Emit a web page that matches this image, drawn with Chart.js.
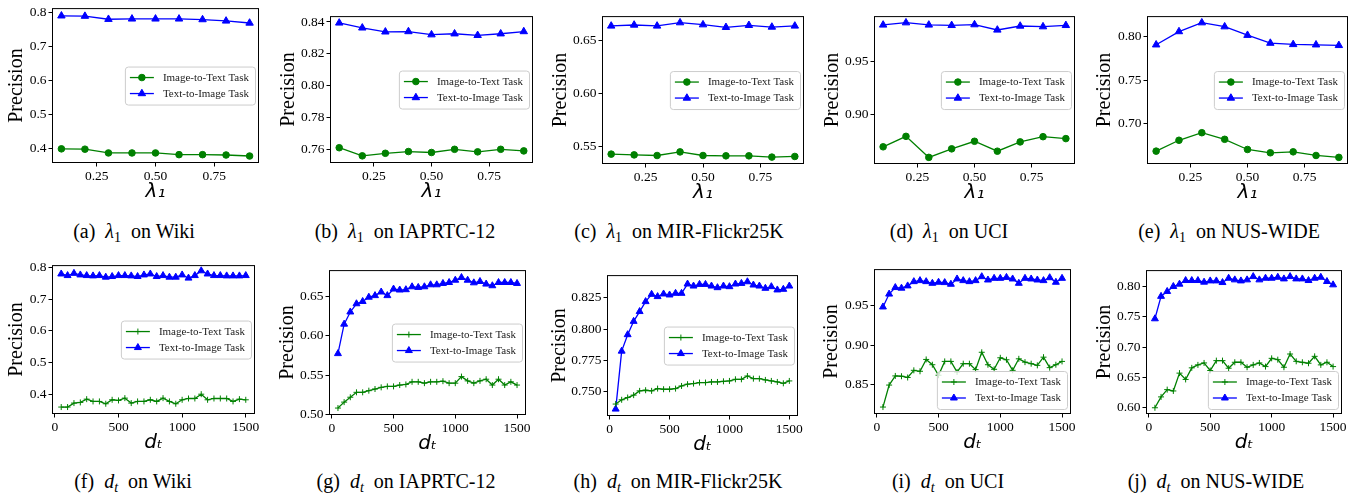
<!DOCTYPE html>
<html>
<head>
<meta charset="utf-8">
<script src="https://cdn.jsdelivr.net/npm/chart.js@4.4.1/dist/chart.umd.min.js"></script>
<style>
  html, body { margin: 0; padding: 0; background: #fff; }
  #fig { position: relative; width: 1357px; height: 497px; overflow: hidden; }
  #fig canvas { position: absolute; }
  .cap { position: absolute; transform: translate(-50%, -50%); font: 20px "Liberation Serif", serif; color: #000; white-space: nowrap; }
  .cap sub { font-size: 14px; vertical-align: -4px; line-height: 0; }
</style>
</head>
<body>
<div id="fig"></div>
<script>
// sweep values on the x axis
const lambdaSteps = [0.1, 0.2, 0.3, 0.4, 0.5, 0.6, 0.7, 0.8, 0.9];
const lambdaTicks = ['0.25', '0.50', '0.75'];
const lambdaRange = [0.06, 0.94];
const dimSteps = [50, 100, 150, 200, 250, 300, 350, 400, 450, 500, 550, 600, 650, 700, 750,
                  800, 850, 900, 950, 1000, 1050, 1100, 1150, 1200, 1250, 1300, 1350, 1400, 1450, 1500];
const dimTicks = ['0', '500', '1000', '1500'];
const dimRange = [-22.5, 1572.5];

// precision vs lambda_1
const wikiLamI2T = [0.400, 0.399, 0.388, 0.388, 0.388, 0.383, 0.383, 0.382, 0.379];
const wikiLamT2I = [0.789, 0.788, 0.779, 0.780, 0.780, 0.780, 0.778, 0.774, 0.768];
const iaprLamI2T = [0.7610, 0.7559, 0.7575, 0.7586, 0.7580, 0.7600, 0.7584, 0.7600, 0.7590];
const iaprLamT2I = [0.8394, 0.8363, 0.8338, 0.8340, 0.8320, 0.8326, 0.8316, 0.8326, 0.8340];
const mirLamI2T = [0.5432, 0.5425, 0.5419, 0.5453, 0.5419, 0.5416, 0.5416, 0.5404, 0.5410];
const mirLamT2I = [0.6640, 0.6649, 0.6640, 0.6671, 0.6652, 0.6627, 0.6646, 0.6630, 0.6640];
const uciLamI2T = [0.8698, 0.8796, 0.8599, 0.8679, 0.8750, 0.8657, 0.8744, 0.8793, 0.8775];
const uciLamT2I = [0.9840, 0.9861, 0.9840, 0.9836, 0.9843, 0.9793, 0.9830, 0.9824, 0.9836];
const nusLamI2T = [0.6686, 0.6811, 0.6898, 0.6822, 0.6705, 0.6667, 0.6678, 0.6636, 0.6614];
const nusLamT2I = [0.7909, 0.8061, 0.8163, 0.8117, 0.8019, 0.7928, 0.7913, 0.7909, 0.7902];

// precision vs d_t
const wikiDimI2T = [0.3596, 0.3596, 0.3721, 0.3742, 0.3845, 0.3773, 0.3773, 0.3700, 0.3825, 0.3804,
                    0.3877, 0.3721, 0.3773, 0.3773, 0.3825, 0.3773, 0.3877, 0.3773, 0.3700, 0.3825,
                    0.3866, 0.3866, 0.4001, 0.3825, 0.3866, 0.3866, 0.3866, 0.3773, 0.3845, 0.3825];
const wikiDimT2I = [0.779, 0.774, 0.781, 0.776, 0.774, 0.773, 0.774, 0.769, 0.771, 0.774,
                    0.774, 0.773, 0.771, 0.776, 0.779, 0.771, 0.774, 0.769, 0.769, 0.776,
                    0.766, 0.774, 0.789, 0.779, 0.774, 0.774, 0.773, 0.773, 0.773, 0.774];
const iaprDimI2T = [0.5085, 0.5160, 0.5222, 0.5284, 0.5284, 0.5305, 0.5326, 0.5347, 0.5359, 0.5359,
                    0.5376, 0.5384, 0.5417, 0.5417, 0.5400, 0.5417, 0.5417, 0.5425, 0.5400, 0.5400,
                    0.5483, 0.5429, 0.5400, 0.5429, 0.5450, 0.5376, 0.5450, 0.5376, 0.5417, 0.5376];
const iaprDimT2I = [0.5774, 0.6147, 0.6301, 0.6405, 0.6434, 0.6488, 0.6508, 0.6554, 0.6508, 0.6591,
                    0.6579, 0.6583, 0.6620, 0.6612, 0.6620, 0.6645, 0.6645, 0.6662, 0.6674, 0.6703,
                    0.6737, 0.6703, 0.6670, 0.6687, 0.6654, 0.6633, 0.6674, 0.6674, 0.6674, 0.6662];
const mirDimI2T = [0.7403, 0.7437, 0.7455, 0.7474, 0.7508, 0.7513, 0.7508, 0.7526, 0.7521, 0.7521,
                   0.7526, 0.7547, 0.7561, 0.7566, 0.7574, 0.7574, 0.7579, 0.7579, 0.7584, 0.7587,
                   0.7600, 0.7600, 0.7626, 0.7605, 0.7605, 0.7595, 0.7587, 0.7579, 0.7568, 0.7587];
const mirDimT2I = [0.7363, 0.7824, 0.7955, 0.8061, 0.8139, 0.8218, 0.8276, 0.8258, 0.8279, 0.8271,
                   0.8284, 0.8284, 0.8358, 0.8342, 0.8355, 0.8355, 0.8342, 0.8329, 0.8342, 0.8337,
                   0.8358, 0.8363, 0.8376, 0.8350, 0.8342, 0.8324, 0.8337, 0.8311, 0.8316, 0.8342];
const uciDimI2T = [0.8213, 0.8492, 0.8608, 0.8604, 0.8588, 0.8679, 0.8667, 0.8817, 0.8750, 0.8617,
                   0.8792, 0.8792, 0.8658, 0.8763, 0.8763, 0.8688, 0.8908, 0.8750, 0.8692, 0.8838,
                   0.8813, 0.8679, 0.8825, 0.8783, 0.8763, 0.8742, 0.8846, 0.8713, 0.8750, 0.8792];
const uciDimT2I = [0.9483, 0.9646, 0.9729, 0.9721, 0.9750, 0.9804, 0.9817, 0.9804, 0.9783, 0.9796,
                   0.9792, 0.9771, 0.9838, 0.9817, 0.9804, 0.9817, 0.9867, 0.9825, 0.9846, 0.9846,
                   0.9858, 0.9838, 0.9783, 0.9846, 0.9838, 0.9825, 0.9817, 0.9854, 0.9796, 0.9846];
const nusDimI2T = [0.6000, 0.6179, 0.6299, 0.6277, 0.6571, 0.6467, 0.6658, 0.6707, 0.6739, 0.6614,
                   0.6777, 0.6777, 0.6652, 0.6750, 0.6750, 0.6668, 0.6707, 0.6739, 0.6679, 0.6815,
                   0.6793, 0.6668, 0.6886, 0.6766, 0.6750, 0.6734, 0.6848, 0.6707, 0.6750, 0.6679];
const nusDimT2I = [0.7467, 0.7837, 0.7918, 0.8000, 0.8038, 0.8098, 0.8098, 0.8098, 0.8071, 0.8092,
                   0.8092, 0.8065, 0.8136, 0.8109, 0.8092, 0.8109, 0.8163, 0.8109, 0.8136, 0.8136,
                   0.8152, 0.8125, 0.8163, 0.8125, 0.8125, 0.8098, 0.8136, 0.8152, 0.8082, 0.8027];

// y tick labels and y limits per panel
const wikiLamYTicks = ['0.4', '0.5', '0.6', '0.7', '0.8'];
const iaprLamYTicks = ['0.76', '0.78', '0.80', '0.82', '0.84'];
const mirLamYTicks = ['0.55', '0.60', '0.65'];
const uciLamYTicks = ['0.90', '0.95'];
const nusLamYTicks = ['0.70', '0.75', '0.80'];
const wikiDimYTicks = ['0.4', '0.5', '0.6', '0.7', '0.8'];
const iaprDimYTicks = ['0.50', '0.55', '0.60', '0.65'];
const mirDimYTicks = ['0.750', '0.775', '0.800', '0.825'];
const uciDimYTicks = ['0.85', '0.90', '0.95'];
const nusDimYTicks = ['0.60', '0.65', '0.70', '0.75', '0.80'];

const wikiLamYRange = [0.3586, 0.8116];
const iaprLamYRange = [0.7514, 0.8437];
const mirLamYRange = [0.5339, 0.6733];
const uciLamYRange = [0.8537, 0.9923];
const nusLamYRange = [0.6538, 0.8239];
const wikiDimYRange = [0.3377, 0.8070];
const iaprDimYRange = [0.4997, 0.6831];
const mirDimYRange = [0.7308, 0.8429];
const uciDimYRange = [0.8125, 0.9963];
const nusDimYRange = [0.5897, 0.8270];

const seriesNames = ['Image-to-Text Task', 'Text-to-Image Task'];
const GREEN = '#008000';
const BLUE = '#0000ff';

// box = plot area [left, top, right, bottom]; ylabelX = centre of "Precision"; cap = caption centre
const panels = [
  { tag: '(a)', sweep: 'lam', set: 'Wiki', i2t: wikiLamI2T, t2i: wikiLamT2I, yTicks: wikiLamYTicks, yRange: wikiLamYRange,
    legend: 'center', box: [52, 6, 259, 163], ylabelX: 17, cap: [134, 231] },
  { tag: '(b)', sweep: 'lam', set: 'IAPRTC-12', i2t: iaprLamI2T, t2i: iaprLamT2I, yTicks: iaprLamYTicks, yRange: iaprLamYRange,
    legend: 'center', box: [330, 14, 533, 163], ylabelX: 289, cap: [405, 231] },
  { tag: '(c)', sweep: 'lam', set: 'MIR-Flickr25K', i2t: mirLamI2T, t2i: mirLamT2I, yTicks: mirLamYTicks, yRange: mirLamYRange,
    legend: 'center', box: [602, 14, 804, 164], ylabelX: 561, cap: [679, 231] },
  { tag: '(d)', sweep: 'lam', set: 'UCI', i2t: uciLamI2T, t2i: uciLamT2I, yTicks: uciLamYTicks, yRange: uciLamYRange,
    legend: 'center', box: [874, 14, 1075, 164], ylabelX: 833, cap: [949, 231] },
  { tag: '(e)', sweep: 'lam', set: 'NUS-WIDE', i2t: nusLamI2T, t2i: nusLamT2I, yTicks: nusLamYTicks, yRange: nusLamYRange,
    legend: 'center', box: [1147, 14, 1348, 164], ylabelX: 1105, cap: [1229, 231] },
  { tag: '(f)', sweep: 'dim', set: 'Wiki', i2t: wikiDimI2T, t2i: wikiDimT2I, yTicks: wikiDimYTicks, yRange: wikiDimYRange,
    legend: 'center', box: [52, 263, 255, 414], ylabelX: 17, cap: [133, 481] },
  { tag: '(g)', sweep: 'dim', set: 'IAPRTC-12', i2t: iaprDimI2T, t2i: iaprDimT2I, yTicks: iaprDimYTicks, yRange: iaprDimYRange,
    legend: 'center', box: [329, 268, 526, 415], ylabelX: 288, cap: [406, 481] },
  { tag: '(h)', sweep: 'dim', set: 'MIR-Flickr25K', i2t: mirDimI2T, t2i: mirDimT2I, yTicks: mirDimYTicks, yRange: mirDimYRange,
    legend: 'center', box: [607, 273, 798, 416], ylabelX: 560, cap: [678, 481] },
  { tag: '(i)', sweep: 'dim', set: 'UCI', i2t: uciDimI2T, t2i: uciDimT2I, yTicks: uciDimYTicks, yRange: uciDimYRange,
    legend: 'lower', box: [874, 267, 1071, 414], ylabelX: 832, cap: [948, 481] },
  { tag: '(j)', sweep: 'dim', set: 'NUS-WIDE', i2t: nusDimI2T, t2i: nusDimT2I, yTicks: nusDimYTicks, yRange: nusDimYRange,
    legend: 'lower', box: [1146, 268, 1342, 414], ylabelX: 1105, cap: [1216, 481] },
];

Chart.defaults.font.family = '"Liberation Serif", "Times New Roman", serif';
Chart.defaults.color = '#000';

function roundRect(ctx, x, y, w, h, r) {
  ctx.beginPath();
  ctx.moveTo(x + r, y);
  ctx.lineTo(x + w - r, y);
  ctx.arcTo(x + w, y, x + w, y + r, r);
  ctx.lineTo(x + w, y + h - r);
  ctx.arcTo(x + w, y + h, x + w - r, y + h, r);
  ctx.lineTo(x + r, y + h);
  ctx.arcTo(x, y + h, x, y + h - r, r);
  ctx.lineTo(x, y + r);
  ctx.arcTo(x, y, x + r, y, r);
  ctx.closePath();
}

// axes frame plus a boxed legend inside the plot area
const frameAndLegend = {
  id: 'frameAndLegend',
  afterDraw(chart, args, opts) {
    const { ctx, chartArea: ca } = chart;
    ctx.save();
    ctx.strokeStyle = '#000';
    ctx.lineWidth = 1;
    ctx.strokeRect(ca.left + 0.5, ca.top + 0.5, ca.right - ca.left - 1, ca.bottom - ca.top - 1);

    ctx.font = '11px "Liberation Serif"';
    const sets = chart.data.datasets;
    const textW = Math.max(...sets.map(d => ctx.measureText(d.label).width));
    const handle = 24, padL = 5, gap = 9, padR = 6, rowH = 16, padV = 3;
    const w = padL + handle + gap + textW + padR;
    const h = rowH * sets.length + padV * 2;
    const x = ca.right - 4 - w;
    const y = opts.loc === 'lower' ? ca.bottom - 5 - h : (ca.top + ca.bottom) / 2 - h / 2;
    roundRect(ctx, x + 0.5, y + 0.5, w, h, 3);
    ctx.fillStyle = 'rgba(255,255,255,0.8)';
    ctx.fill();
    ctx.strokeStyle = '#cccccc';
    ctx.stroke();

    sets.forEach((d, i) => {
      const cy = y + padV + rowH * (i + 0.5);
      ctx.strokeStyle = d.borderColor;
      ctx.fillStyle = d.backgroundColor;
      ctx.lineWidth = d.borderWidth;
      ctx.beginPath();
      ctx.moveTo(x + padL, cy);
      ctx.lineTo(x + padL + handle, cy);
      ctx.stroke();
      ctx.lineWidth = 1;
      Chart.helpers.drawPoint(ctx, { pointStyle: d.pointStyle, radius: d.pointRadius, borderWidth: 1, rotation: 0 },
        x + padL + handle / 2, cy);
      ctx.fillStyle = '#222';
      ctx.textBaseline = 'middle';
      ctx.textAlign = 'left';
      ctx.fillText(d.label, x + padL + handle + gap, cy + 0.5);
    });
    ctx.restore();
  }
};

const fig = document.getElementById('fig');

function addPanel(p) {
  const [L, T, R, B] = p.box;
  const padTop = 8, padRight = 8, xh = 45;
  const cl = Math.round(p.ylabelX - 16);
  const isLam = p.sweep === 'lam';
  const xs = isLam ? lambdaSteps : dimSteps;
  const xTicks = isLam ? lambdaTicks : dimTicks;
  const xRange = isLam ? lambdaRange : dimRange;

  const canvas = document.createElement('canvas');
  canvas.width = R - cl + padRight;
  canvas.height = padTop + (B - T) + xh;
  canvas.style.left = cl + 'px';
  canvas.style.top = (T - padTop) + 'px';
  fig.appendChild(canvas);

  const line = (label, vals, color, style, radius) => ({
    label,
    data: xs.map((x, i) => ({ x, y: vals[i] })),
    borderColor: color,
    backgroundColor: color,
    borderWidth: 1.3,
    pointStyle: style,
    pointRadius: radius,
    pointBorderWidth: 1,
    pointHoverRadius: radius,
    tension: 0,
    clip: false,
  });

  new Chart(canvas, {
    type: 'line',
    data: {
      datasets: [
        line(seriesNames[0], p.i2t, GREEN, isLam ? 'circle' : 'cross', isLam ? 3.3 : 3),
        line(seriesNames[1], p.t2i, BLUE, 'triangle', isLam ? 4.3 : 4),
      ]
    },
    options: {
      responsive: false,
      animation: false,
      devicePixelRatio: 1,
      events: [],
      layout: { padding: { top: padTop, right: padRight, left: 0, bottom: 0 } },
      plugins: {
        legend: { display: false },
        tooltip: { enabled: false },
        frameAndLegend: { loc: p.legend },
      },
      scales: {
        x: {
          type: 'linear',
          min: xRange[0],
          max: xRange[1],
          afterBuildTicks: s => { s.ticks = xTicks.map(t => ({ value: parseFloat(t) })); },
          afterFit: s => { s.height = xh; },
          ticks: { callback: (v, i) => xTicks[i], font: { size: 13.5 }, padding: 2, maxRotation: 0, autoSkip: false },
          grid: { drawOnChartArea: false, drawTicks: true, tickLength: 3.5, color: '#000' },
          border: { display: false },
          title: {
            display: true,
            text: isLam ? 'λ₁' : 'dₜ',
            font: { family: '"DejaVu Sans"', size: 20, style: 'italic' },
            padding: { top: 0, bottom: 4 },
          },
        },
        y: {
          min: p.yRange[0],
          max: p.yRange[1],
          afterBuildTicks: s => { s.ticks = p.yTicks.map(t => ({ value: parseFloat(t) })); },
          afterFit: s => { s.width = L - cl; },
          ticks: { callback: (v, i) => p.yTicks[i], font: { size: 13.5 }, padding: 2, autoSkip: false },
          grid: { drawOnChartArea: false, drawTicks: true, tickLength: 3.5, color: '#000' },
          border: { display: false },
          title: { display: true, text: 'Precision', font: { size: 20 }, padding: { top: 4, bottom: 4 } },
        },
      },
    },
    plugins: [frameAndLegend],
  });

  const cap = document.createElement('div');
  cap.className = 'cap';
  cap.style.left = p.cap[0] + 'px';
  cap.style.top = p.cap[1] + 'px';
  const sym = isLam ? '<i>λ</i><sub>1</sub>' : '<i>d</i><sub><i>t</i></sub>';
  cap.innerHTML = p.tag + '&ensp;' + sym + '&ensp;on ' + p.set;
  fig.appendChild(cap);
}

panels.forEach(addPanel);
</script>
</body>
</html>
